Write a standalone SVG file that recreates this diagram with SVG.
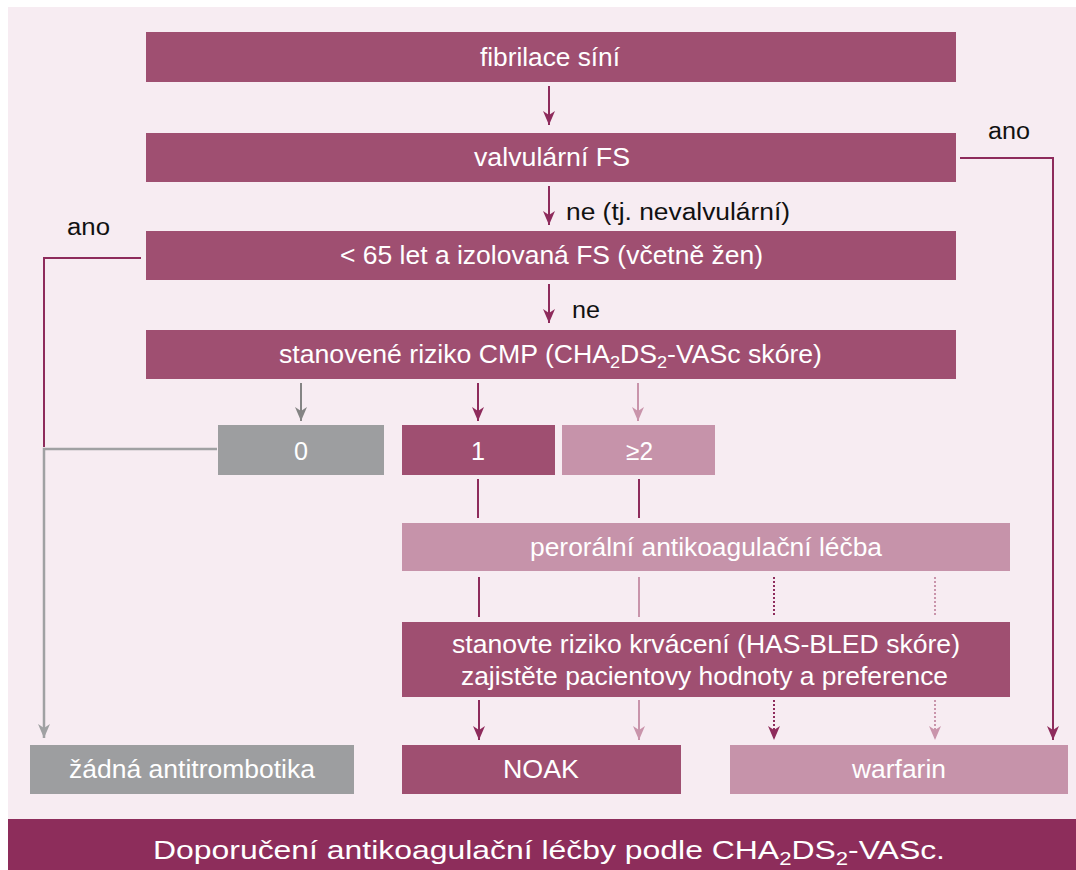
<svg xmlns="http://www.w3.org/2000/svg" width="1076" height="870" viewBox="0 0 1076 870">
<defs>
<style>
.dk{fill:#9f4f71}
.lt{fill:#c693aa}
.gr{fill:#9d9ea0}
.t{font-family:"Liberation Sans",Arial,sans-serif;font-size:25px;fill:#ffffff}
.bn{font-family:"Liberation Sans",Arial,sans-serif;font-size:26px;fill:#ffffff}
.lb{font-family:"Liberation Sans",Arial,sans-serif;font-size:23px;fill:#111111}
.cd{stroke:#8e2b5c;stroke-width:2;fill:none}
.cl{stroke:#c994ab;stroke-width:2;fill:none}
.cg{stroke:#a0a1a3;stroke-width:2.5;fill:none}
.cg2{stroke:#848484;stroke-width:2;fill:none}
.dot{stroke-dasharray:2 2}
</style>
<marker id="ad" viewBox="0 0 14 12" refX="14" refY="6" markerWidth="14" markerHeight="12" markerUnits="userSpaceOnUse" orient="auto"><path d="M0,0 L14,6 L0,12 L4,6 z" fill="#8e2b5c"/></marker>
<marker id="al" viewBox="0 0 14 12" refX="14" refY="6" markerWidth="14" markerHeight="12" markerUnits="userSpaceOnUse" orient="auto"><path d="M0,0 L14,6 L0,12 L4,6 z" fill="#c994ab"/></marker>
<marker id="ag" viewBox="0 0 14 12" refX="14" refY="6" markerWidth="14" markerHeight="12" markerUnits="userSpaceOnUse" orient="auto"><path d="M0,0 L14,6 L0,12 L4,6 z" fill="#848484"/></marker>
<marker id="ag2" viewBox="0 0 14 12" refX="14" refY="6" markerWidth="14" markerHeight="12" markerUnits="userSpaceOnUse" orient="auto"><path d="M0,0 L14,6 L0,12 L4,6 z" fill="#a0a1a3"/></marker>
</defs>
<rect x="0" y="0" width="1076" height="870" fill="#ffffff"/>
<rect x="8" y="7" width="1068" height="812" fill="#f7ecf2"/>

<g id="connectors">
<line class="cd" x1="549" y1="86" x2="549" y2="125" marker-end="url(#ad)"/>
<line class="cd" x1="549" y1="186" x2="549" y2="225" marker-end="url(#ad)"/>
<line class="cd" x1="549" y1="284" x2="549" y2="323" marker-end="url(#ad)"/>
<polyline class="cd" points="960,158 1053,158 1053,740" marker-end="url(#ad)"/>
<polyline class="cd" points="141,258 44,258 44,447"/>
<polyline class="cg" points="217,449 44,449 44,738" marker-end="url(#ag2)"/>
<line class="cg2" x1="301" y1="383" x2="301" y2="421" marker-end="url(#ag)"/>
<line class="cd" x1="478" y1="383" x2="478" y2="421" marker-end="url(#ad)"/>
<line class="cl" x1="638" y1="383" x2="638" y2="421" marker-end="url(#al)"/>
<line class="cd" x1="478" y1="479" x2="478" y2="518"/>
<line class="cd" x1="639" y1="479" x2="639" y2="518"/>
<line class="cd" x1="479" y1="577" x2="479" y2="617"/>
<line class="cl" x1="639" y1="577" x2="639" y2="617"/>
<line class="cd dot" x1="774" y1="577" x2="774" y2="617"/>
<line class="cl dot" x1="935" y1="577" x2="935" y2="617"/>
<line class="cd" x1="479" y1="700" x2="479" y2="740" marker-end="url(#ad)"/>
<line class="cl" x1="639" y1="700" x2="639" y2="740" marker-end="url(#al)"/>
<line class="cd dot" x1="774" y1="700" x2="774" y2="740" marker-end="url(#ad)"/>
<line class="cl dot" x1="935" y1="700" x2="935" y2="740" marker-end="url(#al)"/>
<text class="lb" x="988" y="139" textLength="42" lengthAdjust="spacingAndGlyphs">ano</text>
<text class="lb" x="67" y="235" textLength="43" lengthAdjust="spacingAndGlyphs">ano</text>
<text class="lb" x="566" y="220" textLength="224" lengthAdjust="spacingAndGlyphs">ne (tj. nevalvulární)</text>
<text class="lb" x="572" y="318" textLength="28" lengthAdjust="spacingAndGlyphs">ne</text>
</g>

<g id="n-fibrilace"><rect class="dk" x="146" y="32" width="810" height="50"/><text class="t" x="480" y="66" textLength="140" lengthAdjust="spacingAndGlyphs">fibrilace síní</text></g>
<g id="n-valvularni"><rect class="dk" x="146" y="133" width="810" height="49"/><text class="t" x="474" y="166" textLength="156" lengthAdjust="spacingAndGlyphs">valvulární FS</text></g>
<g id="n-65"><rect class="dk" x="146" y="231" width="810" height="49"/><text class="t" x="340" y="264" textLength="423" lengthAdjust="spacingAndGlyphs">&lt; 65 let a izolovaná FS (včetně žen)</text></g>
<g id="n-riziko"><rect class="dk" x="146" y="330" width="810" height="49"/><text class="t" x="279" y="363" textLength="543" lengthAdjust="spacingAndGlyphs">stanovené riziko CMP (CHA<tspan font-size="17" dy="5">2</tspan><tspan dy="-5">DS</tspan><tspan font-size="17" dy="5">2</tspan><tspan dy="-5">-VASc skóre)</tspan></text></g>
<g id="n-0"><rect class="gr" x="218" y="425" width="166" height="50"/><text class="t" x="294" y="460" font-size="26" textLength="14" lengthAdjust="spacingAndGlyphs">0</text></g>
<g id="n-1"><rect class="dk" x="402" y="425" width="153" height="50"/><text class="t" x="471" y="460" textLength="14" lengthAdjust="spacingAndGlyphs">1</text></g>
<g id="n-2"><rect class="lt" x="562" y="425" width="153" height="50"/><text class="t" x="626" y="460" textLength="27" lengthAdjust="spacingAndGlyphs">≥2</text></g>
<g id="n-peroralni"><rect class="lt" x="402" y="523" width="608" height="48"/><text class="t" x="530" y="556" textLength="352" lengthAdjust="spacingAndGlyphs">perorální antikoagulační léčba</text></g>
<g id="n-hasbled"><rect class="dk" x="402" y="622" width="608" height="75"/><text class="t" x="452" y="653" textLength="508" lengthAdjust="spacingAndGlyphs">stanovte riziko krvácení (HAS-BLED skóre)</text><text class="t" x="461" y="685" textLength="487" lengthAdjust="spacingAndGlyphs">zajistěte pacientovy hodnoty a preference</text></g>
<g id="n-zadna"><rect class="gr" x="30" y="745" width="324" height="49"/><text class="t" x="69" y="778" textLength="246" lengthAdjust="spacingAndGlyphs">žádná antitrombotika</text></g>
<g id="n-noak"><rect class="dk" x="402" y="745" width="279" height="49"/><text class="t" x="503" y="778" textLength="76" lengthAdjust="spacingAndGlyphs">NOAK</text></g>
<g id="n-warfarin"><rect class="lt" x="730" y="745" width="338" height="49"/><text class="t" x="852" y="778" textLength="94" lengthAdjust="spacingAndGlyphs">warfarin</text></g>

<g id="banner"><rect x="8" y="819" width="1068" height="51" fill="#8d2d5b"/><text class="bn" x="153" y="859" textLength="792" lengthAdjust="spacingAndGlyphs">Doporučení antikoagulační léčby podle CHA<tspan font-size="18" dy="6">2</tspan><tspan dy="-6">DS</tspan><tspan font-size="18" dy="6">2</tspan><tspan dy="-6">-VASc.</tspan></text></g>
</svg>
